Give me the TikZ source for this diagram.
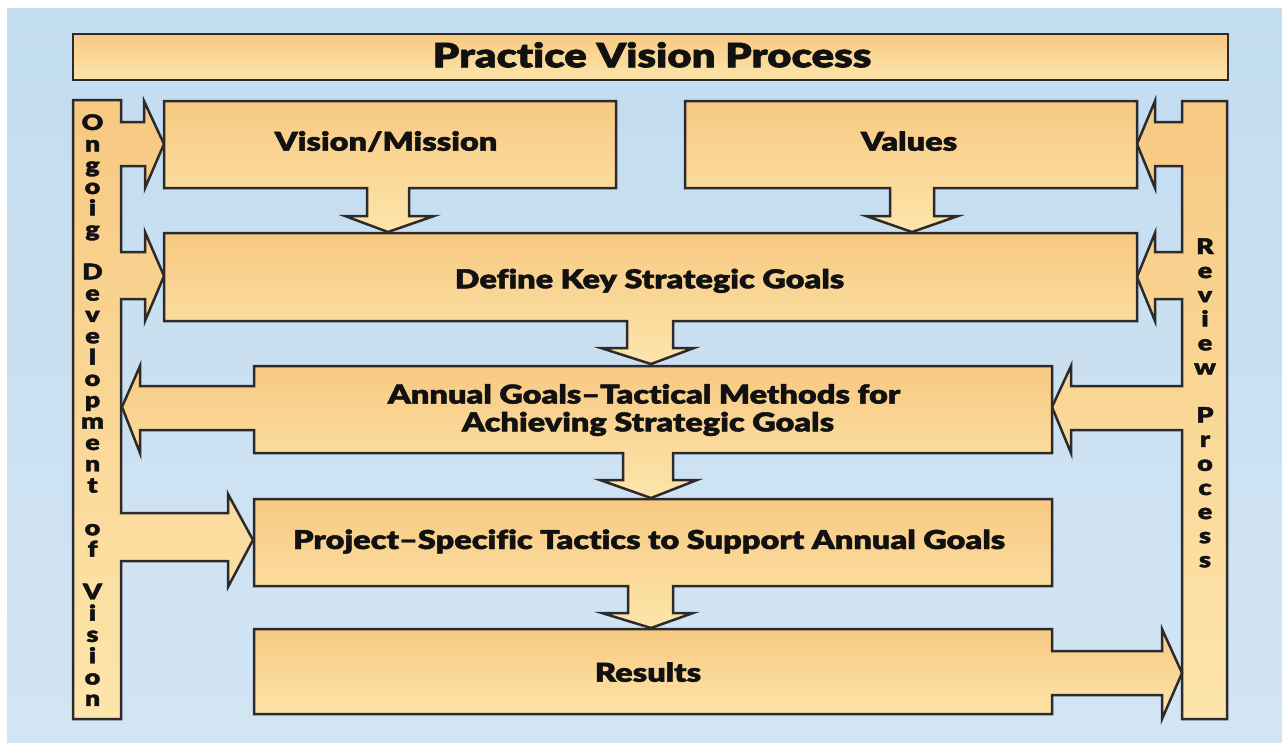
\documentclass[tikz,border=0pt]{standalone}
\usepackage{fontspec}
\IfFontExistsTF{Lato Black}
  {\newfontfamily\heavyfam{Lato Black}[FakeStretch=1.25,FakeBold=1.8,Ligatures=NoCommon]\newcommand\heavy{\heavyfam}}
  {\newfontfamily\heavyfam{Fira Sans}[BoldFeatures={FakeBold=2,FakeStretch=1.2}]\newcommand\heavy{\heavyfam\bfseries}}
\definecolor{bgtop}{HTML}{C2DCF0}
\definecolor{bgbot}{HTML}{D3E5F3}
\definecolor{boxtop}{HTML}{F7C982}
\definecolor{boxbot}{HTML}{FDE5AB}
\definecolor{edge}{HTML}{2C2A2A}
\definecolor{ink}{HTML}{111111}
\begin{document}
\begin{tikzpicture}[x=1pt,y=-1pt,
  blockshape/.style={top color=boxtop,bottom color=boxbot,draw=edge,line width=2.5pt,line join=miter},
  boxtext/.style={font=\heavy\fontsize{26}{28}\selectfont,text=ink,inner sep=0pt,anchor=base},
  titletext/.style={font=\heavy\fontsize{33.5}{35}\selectfont,text=ink,inner sep=0pt,anchor=base},
  vletter/.style={font=\heavy\fontsize{21.5}{22}\selectfont,text=ink,inner sep=0pt,anchor=base}]
\useasboundingbox (0,0) rectangle (1282,742);
% background
\shade[top color=bgtop,bottom color=bgbot] (7,8) rectangle (1282,742);
% title
\draw[blockshape] (73,34) rectangle (1228,80);
\node[titletext] (title) at (652,67.3) {Practice Vision Process};
% left bar with arrows
\draw[blockshape] (73,100) -- (121,100) -- (121,122) -- (144,122) -- (144,101) -- (164,144) -- (145,188) -- (145,166) -- (121,166)
  -- (121,252) -- (145,252) -- (145,232) -- (164,276) -- (145,321) -- (145,299) -- (121,299)
  -- (121,513) -- (228,513) -- (228,494) -- (253,540) -- (228,587) -- (228,561) -- (121,561)
  -- (121,719) -- (73,719) -- cycle;
% right bar with arrows
\draw[blockshape] (1182,101) -- (1227,101) -- (1227,719) -- (1182,719)
  -- (1182,430) -- (1071,430) -- (1071,453) -- (1052,407) -- (1071,366) -- (1071,386) -- (1182,386)
  -- (1182,299) -- (1155,299) -- (1155,321) -- (1137,277) -- (1155,233) -- (1155,252) -- (1182,252)
  -- (1182,166) -- (1155,166) -- (1155,188) -- (1137,144) -- (1155,101) -- (1155,122) -- (1182,122) -- cycle;
% vision / mission
\draw[blockshape] (164,101) -- (616,101) -- (616,188) -- (409,188) -- (409,216) -- (434,216) -- (388,232)
  -- (345,216) -- (367,216) -- (367,188) -- (164,188) -- cycle;
\node[boxtext] (vision) at (386,150.7) {Vision/Mission};
% values
\draw[blockshape] (685,101) -- (1137,101) -- (1137,188) -- (934,188) -- (934,216) -- (958,216) -- (912,232)
  -- (866,216) -- (890,216) -- (890,188) -- (685,188) -- cycle;
\node[boxtext] (values) at (909,150.7) {Values};
% define key strategic goals
\draw[blockshape] (164,233) -- (1137,233) -- (1137,321) -- (673,321) -- (673,348) -- (694,348) -- (651,364)
  -- (601,348) -- (627,348) -- (627,321) -- (164,321) -- cycle;
\node[boxtext] (define) at (649.5,288.3) {Define Key Strategic Goals};
% annual goals
\draw[blockshape] (254,366) -- (1052,366) -- (1052,453) -- (673,453) -- (673,480) -- (697,480) -- (651,498)
  -- (600,480) -- (623,480) -- (623,453) -- (254,453) -- (254,430) -- (140,430) -- (140,453) -- (122,407)
  -- (140,366) -- (140,386) -- (254,386) -- cycle;
\node[boxtext] (annual1) at (644,403.6) {Annual Goals–Tactical Methods for};
\node[boxtext] (annual2) at (648,431.4) {Achieving Strategic Goals};
% project-specific
\draw[blockshape] (254,499) -- (1052,499) -- (1052,586) -- (673,586) -- (673,613) -- (693,613) -- (651,628)
  -- (602,613) -- (628,613) -- (628,586) -- (254,586) -- cycle;
\node[boxtext] (project) at (649,549) {Project–Specific Tactics to Support Annual Goals};
% results
\draw[blockshape] (254,629) -- (1052,629) -- (1052,651) -- (1162,651) -- (1162,629) -- (1182,673) -- (1162,719)
  -- (1162,695) -- (1052,695) -- (1052,714) -- (254,714) -- cycle;
\node[boxtext] (results) at (648,681.7) {Results};
% vertical texts
\foreach \c/\k in {O/0,n/1,g/2,o/3,i/4,g/5,D/7,e/8,v/9,e/10,l/11,o/12,p/13,m/14,e/15,n/16,t/17,o/19,f/20,V/22,i/23,s/24,i/25,o/26,n/27}
  \node[vletter] (L\k) at (92.5,130+\k*21.33) {\c};
\foreach \c/\k in {R/0,e/1,v/2,i/3,e/4,w/5,P/7,r/8,o/9,c/10,e/11,s/12,s/13}
  \node[vletter] (R\k) at (1205,254+\k*24.1) {\c};
\end{tikzpicture}
\end{document}
